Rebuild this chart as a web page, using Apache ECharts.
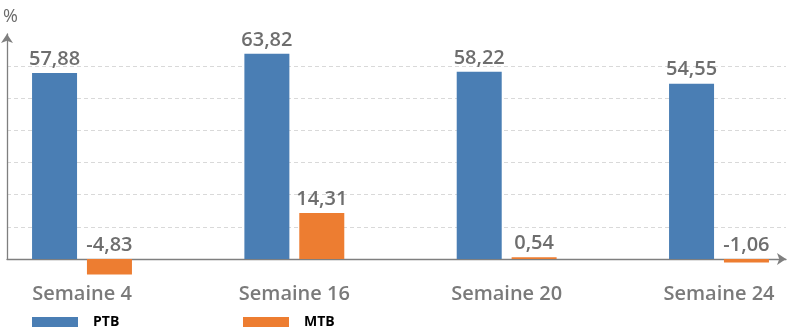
<!DOCTYPE html>
<html>
<head>
<meta charset="utf-8">
<script src="https://cdn.jsdelivr.net/npm/echarts@6/dist/echarts.min.js"></script>
<style>html,body{margin:0;padding:0;background:#fff}#c{width:800px;height:336px}</style>
</head>
<body>
<div id="c"></div>
<script>
var categories = ['Semaine 4', 'Semaine 16', 'Semaine 20', 'Semaine 24'];
var ptbValues = [57.88, 63.82, 58.22, 54.55];
var mtbValues = [-4.83, 14.31, 0.54, -1.06];
var seriesNames = ['PTB', 'MTB'];
var yTicks = [0, 10, 20, 30, 40, 50, 60, 70];

var BLUE = '#4A7EB4', ORANGE = '#ED7D31';
var FONT = '"Open Sans", "Noto Sans", sans-serif';
function fmt(p) { return p.value.toFixed(2).replace('.', ','); }

var chart = echarts.init(document.getElementById('c'), null, {renderer: 'canvas'});
var labelStyle = {show: true, position: 'top', distance: 4, formatter: fmt,
  color: '#6e6e6e', fontSize: 20, fontWeight: 600, fontFamily: FONT};

chart.setOption({
  animation: false,
  grid: [
    {left: 7, right: 14, top: 34, bottom: 77},
    {left: 82, right: 81, top: 34, bottom: 60.93}
  ],
  legend: [
    {data: [seriesNames[0]], left: 32, top: 315, padding: 0, icon: 'rect', itemWidth: 46, itemHeight: 10,
     textStyle: {color: '#000', fontSize: 14, fontWeight: 700, fontFamily: FONT, padding: [0, 0, 0, 10]}},
    {data: [seriesNames[1]], left: 243, top: 315, padding: 0, icon: 'rect', itemWidth: 46, itemHeight: 10,
     textStyle: {color: '#000', fontSize: 14, fontWeight: 700, fontFamily: FONT, padding: [0, 0, 0, 10]}}
  ],
  xAxis: [
    {gridIndex: 0, type: 'value', min: 0, max: 1, axisLabel: {show: false}, axisTick: {show: false},
     splitLine: {show: false},
     axisLine: {show: true, symbol: ['none', 'arrow'], symbolSize: [9, 9], lineStyle: {color: '#7f7f7f', width: 1.3}}},
    {gridIndex: 1, type: 'category', data: categories, boundaryGap: false,
     axisLine: {show: false}, axisTick: {show: false},
     axisLabel: {margin: 9, color: '#7a7a7a', fontSize: 20, fontWeight: 600, fontFamily: FONT}}
  ],
  yAxis: [
    {gridIndex: 0, type: 'value', min: yTicks[0], max: yTicks[yTicks.length - 1], interval: 10,
     name: '%', nameLocation: 'end', nameGap: 8,
     nameTextStyle: {color: '#6a6a6a', fontSize: 18, fontFamily: FONT, padding: [0, 0, 0, 7]},
     axisLabel: {show: false}, axisTick: {show: false},
     axisLine: {show: true, symbol: ['none', 'arrow'], symbolSize: [9, 9], lineStyle: {color: '#7f7f7f', width: 1.3}},
     splitLine: {show: true, showMaxLine: false, lineStyle: {color: '#d9d9d9', type: [4, 3], width: 1}}},
    {gridIndex: 1, type: 'value', min: -5, max: 70, show: false}
  ],
  series: [
    {name: seriesNames[0], type: 'bar', xAxisIndex: 1, yAxisIndex: 1, data: ptbValues,
     barWidth: 45, barGap: '22%', itemStyle: {color: BLUE},
     label: labelStyle},
    {name: seriesNames[1], type: 'bar', xAxisIndex: 1, yAxisIndex: 1, data: mtbValues,
     barWidth: 45, barGap: '22%', itemStyle: {color: ORANGE},
     label: labelStyle}
  ]
});
</script>
</body>
</html>
